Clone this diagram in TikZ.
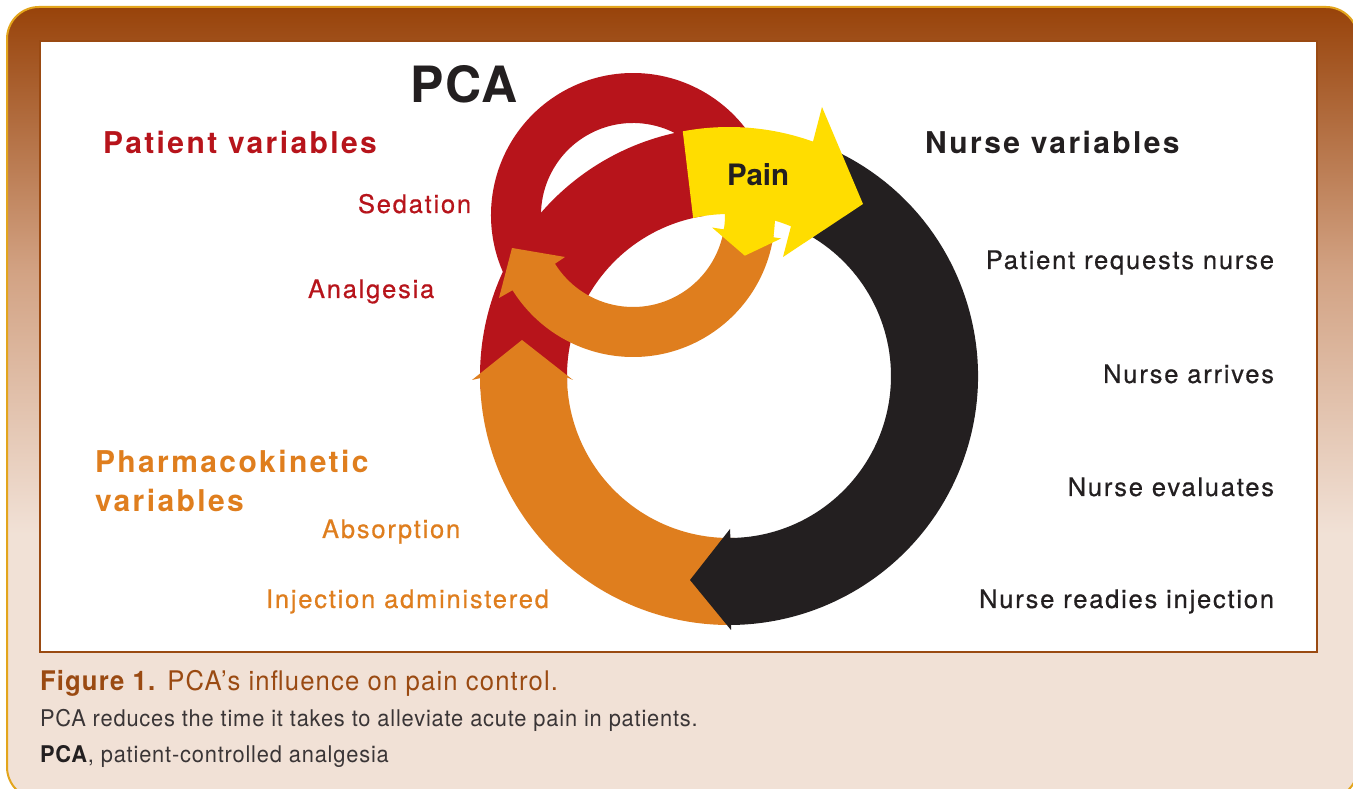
\documentclass[tikz,border=0pt]{standalone}
\usepackage{fontspec}
\setmainfont{TeX Gyre Heros}
\newfontfamily\trackfont[LetterSpace=8]{TeX Gyre Heros}
\newfontfamily\pcafont[LetterSpace=4]{TeX Gyre Heros}
\newfontfamily\labfont[LetterSpace=7, FakeBold=0.6]{TeX Gyre Heros}
\newfontfamily\capfonta[FakeStretch=0.95, LetterSpace=4.3]{TeX Gyre Heros}
\newfontfamily\capfontb[FakeStretch=0.95, LetterSpace=3.5]{TeX Gyre Heros}
\usetikzlibrary{calc}
\definecolor{pred}{HTML}{B7141B}
\definecolor{porange}{HTML}{DF7E1E}
\definecolor{pyellow}{HTML}{FFDD00}
\definecolor{pblack}{HTML}{231F20}
\definecolor{fdark}{HTML}{98430A}
\definecolor{fmid}{HTML}{D2A283}
\definecolor{fpale}{HTML}{F1E1D6}
\definecolor{fgold}{HTML}{E3A51C}
\definecolor{fbrown}{HTML}{9A4A12}
\definecolor{capgray}{HTML}{3A3536}
\tikzset{
  lab/.style={inner sep=0pt, outer sep=0pt},
  bigtitle/.style={lab, anchor=base west, font=\trackfont\bfseries\fontsize{30}{36}\selectfont},
  smalllab/.style={lab, anchor=base west, font=\labfont\fontsize{25.5}{30}\selectfont},
  nurselab/.style={lab, anchor=base east, text=pblack, font=\labfont\fontsize{25.5}{30}\selectfont},
}
\begin{document}
\begin{tikzpicture}[x=1pt,y=1pt]
\useasboundingbox (0,0) rectangle (1353,789);
% frame
\begin{scope}
\clip (0,0) rectangle (1353,789);
\fill[fpale, rounded corners=32pt] (7,-10) rectangle (1358,782);
\begin{scope}
\clip[rounded corners=32pt] (7,-10) rectangle (1358,782);
\shade[top color=fdark, bottom color=fpale, middle color=fmid] (0,255) rectangle (1360,782);
\end{scope}
\draw[fgold, line width=2pt, rounded corners=32pt] (7,-10) rectangle (1358,782);
\end{scope}
\draw[fbrown, line width=2.5pt, fill=white] (40,137) rectangle (1317,748);
% ring centres
\coordinate (C) at (729,413);
\coordinate (c) at (633,574);
% red big band
\fill[pred] ($(C)+(183:249)$) arc[start angle=183, end angle=99, radius=249]
  -- ($(C)+(99:162)$) arc[start angle=99, end angle=183, radius=162] -- cycle;
% red small band
\fill[pred] ($(c)+(213:142)$) arc[start angle=213, end angle=30, radius=142]
  -- ($(c)+(30:92)$) arc[start angle=30, end angle=213, radius=92] -- cycle;
% orange small band with head
\fill[porange] ($(c)+(-8:142)$) arc[start angle=-8, end angle=-148, radius=142]
  -- (499,491) -- (512,541) -- (565,532)
  -- ($(c)+(-148:92)$) arc[start angle=-148, end angle=-8, radius=92] -- cycle;
% orange big band with head
\fill[porange] ($(C)+(-88:249)$) arc[start angle=-88, end angle=-179.5, radius=249]
  -- (472,409) -- (522,449) -- (573,409)
  -- ($(C)+(-179.5:162)$) arc[start angle=-179.5, end angle=-88, radius=162] -- cycle;
% black band with head
\fill[pblack] ($(C)+(64:249)$) arc[start angle=64, end angle=-89.5, radius=249]
  -- (731,159) -- (690,209) -- (730,260)
  -- ($(C)+(-89.5:162)$) arc[start angle=-89.5, end angle=64, radius=162] -- cycle;
% yellow pain arrow
\fill[pyellow] ($(C)+(100.7:249)$) arc[start angle=100.7, end angle=66, radius=249]
  -- ($(C)+(66:162)$) arc[start angle=66, end angle=102.8, radius=162] -- cycle;
\fill[pyellow] (822,682) -- (863,585) -- (783,532) -- cycle;
\fill[pyellow] ($(c)+(35:142)$) arc[start angle=35, end angle=-9, radius=142]
  -- ($(c)+(-9:150)$) -- ($(c)+(-20:119)$) -- ($(c)+(-9:80)$)
  -- ($(c)+(-9:92)$) arc[start angle=-9, end angle=35, radius=92] -- cycle;
% texts
\node[lab, anchor=base west, text=pblack, font=\pcafont\bfseries\fontsize{50}{56}\selectfont] (pca) at (410,686) {PCA};
\node[bigtitle, text=pred] (patvar) at (103,635) {Patient variables};
\node[smalllab, text=pred] (sed) at (358,576) {Sedation};
\node[smalllab, text=pred] (ana) at (308,491) {Analgesia};
\node[bigtitle, text=pblack] (nurvar) at (925,635) {Nurse variables};
\node[lab, anchor=base west, text=pblack, font=\bfseries\fontsize{29.5}{34}\selectfont] (pain) at (727,603) {Pain};
\node[nurselab] (n1) at (1274,520) {Patient requests nurse};
\node[nurselab] (n2) at (1274,406) {Nurse arrives};
\node[nurselab] (n3) at (1274,293) {Nurse evaluates};
\node[nurselab] (n4) at (1274,181) {Nurse readies injection};
\node[bigtitle, text=porange] (pk1) at (95,316) {Pharmacokinetic};
\node[bigtitle, text=porange] (pk2) at (95,277) {variables};
\node[smalllab, text=porange] (abs) at (322,251) {Absorption};
\node[smalllab, text=porange] (inj) at (266,181) {Injection administered};
% caption
\node[lab, anchor=base west, text=fbrown, font=\capfonta\fontsize{27}{31}\selectfont] (cap1) at (40,98) {\textbf{Figure 1.} PCA’s influence on pain control.};
\node[lab, anchor=base west, text=capgray, font=\capfontb\fontsize{23}{27}\selectfont] (cap2) at (40,62) {PCA reduces the time it takes to alleviate acute pain in patients.};
\node[lab, anchor=base west, text=capgray, font=\capfontb\fontsize{23}{27}\selectfont] (cap3) at (40,26) {\textcolor{pblack}{\textbf{PCA}}, patient-controlled analgesia};
\end{tikzpicture}
\end{document}
